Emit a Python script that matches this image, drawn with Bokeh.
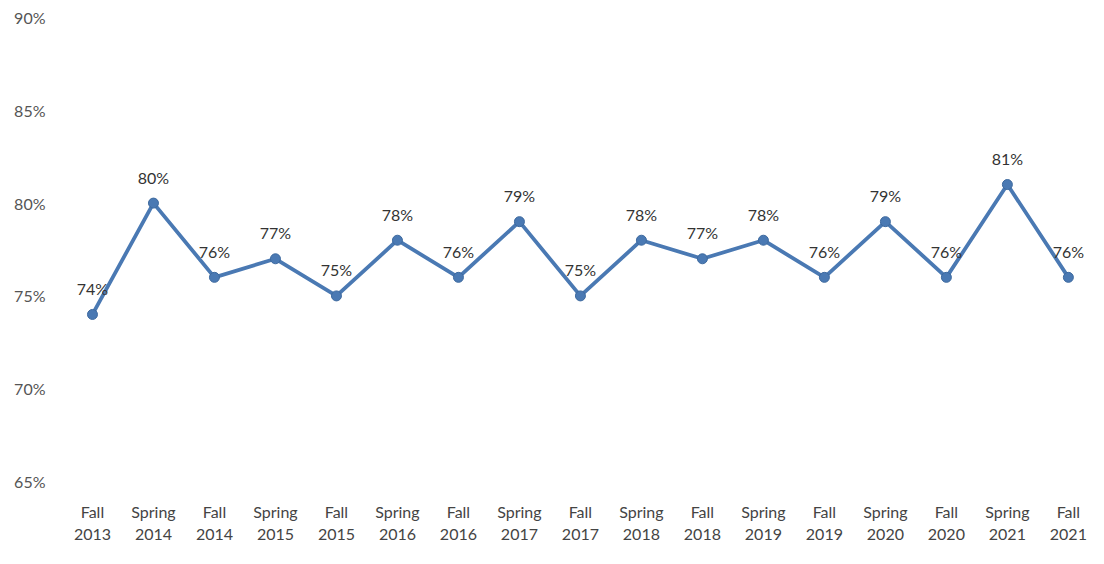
from bokeh.plotting import figure
from bokeh.models import ColumnDataSource, Range1d, FixedTicker
from bokeh.core.properties import value
from bokeh.embed import file_html
from bokeh.resources import INLINE

terms = ["Fall\n2013", "Spring\n2014", "Fall\n2014", "Spring\n2015", "Fall\n2015",
         "Spring\n2016", "Fall\n2016", "Spring\n2017", "Fall\n2017", "Spring\n2018",
         "Fall\n2018", "Spring\n2019", "Fall\n2019", "Spring\n2020", "Fall\n2020",
         "Spring\n2021", "Fall\n2021"]
rates = [74, 80, 76, 77, 75, 78, 76, 79, 75, 78, 77, 78, 76, 79, 76, 81, 76]
y_ticks = [65, 70, 75, 80, 85, 90]

FONT = "Lato"
LINE = "#4A79B3"

xs = list(range(len(terms)))
src = ColumnDataSource(dict(x=xs, y=rates, lab=[f"{v}%" for v in rates]))

p = figure(width=1088, height=548, output_backend="svg", toolbar_location=None,
           x_range=Range1d(-0.475, 16.33), y_range=Range1d(65, 90),
           min_border_left=63, min_border_right=0, min_border_top=17, min_border_bottom=67)
p.outline_line_color = None
p.xgrid.grid_line_color = None
p.ygrid.grid_line_color = None

p.line("x", "y", source=src, line_color=LINE, line_width=3.8)
p.scatter("x", "y", source=src, size=10, fill_color=LINE, line_color="#3E6A9F", line_width=1)
p.text("x", "y", text="lab", source=src, text_align="center", text_baseline="middle",
       y_offset=-26, text_font=value(FONT), text_font_size="16px", text_color="#333333")

p.xaxis.ticker = FixedTicker(ticks=xs)
p.xaxis.major_label_overrides = {i: t for i, t in enumerate(terms)}
p.yaxis.ticker = FixedTicker(ticks=y_ticks)
p.yaxis.major_label_overrides = {v: f"{v}%" for v in y_ticks}
for ax in (p.xaxis[0], p.yaxis[0]):
    ax.axis_line_color = None
    ax.major_tick_line_color = None
    ax.minor_tick_line_color = None
    ax.major_label_text_font = FONT
ax = p.xaxis[0]
ax.major_label_text_font_size = "16px"
ax.major_label_text_color = "#444444"
ax.major_label_standoff = 14
ay = p.yaxis[0]
ay.major_label_text_font_size = "16px"
ay.major_label_text_color = "#555555"
ay.major_label_standoff = 12

open("out.html", "w").write(file_html(p, INLINE))
